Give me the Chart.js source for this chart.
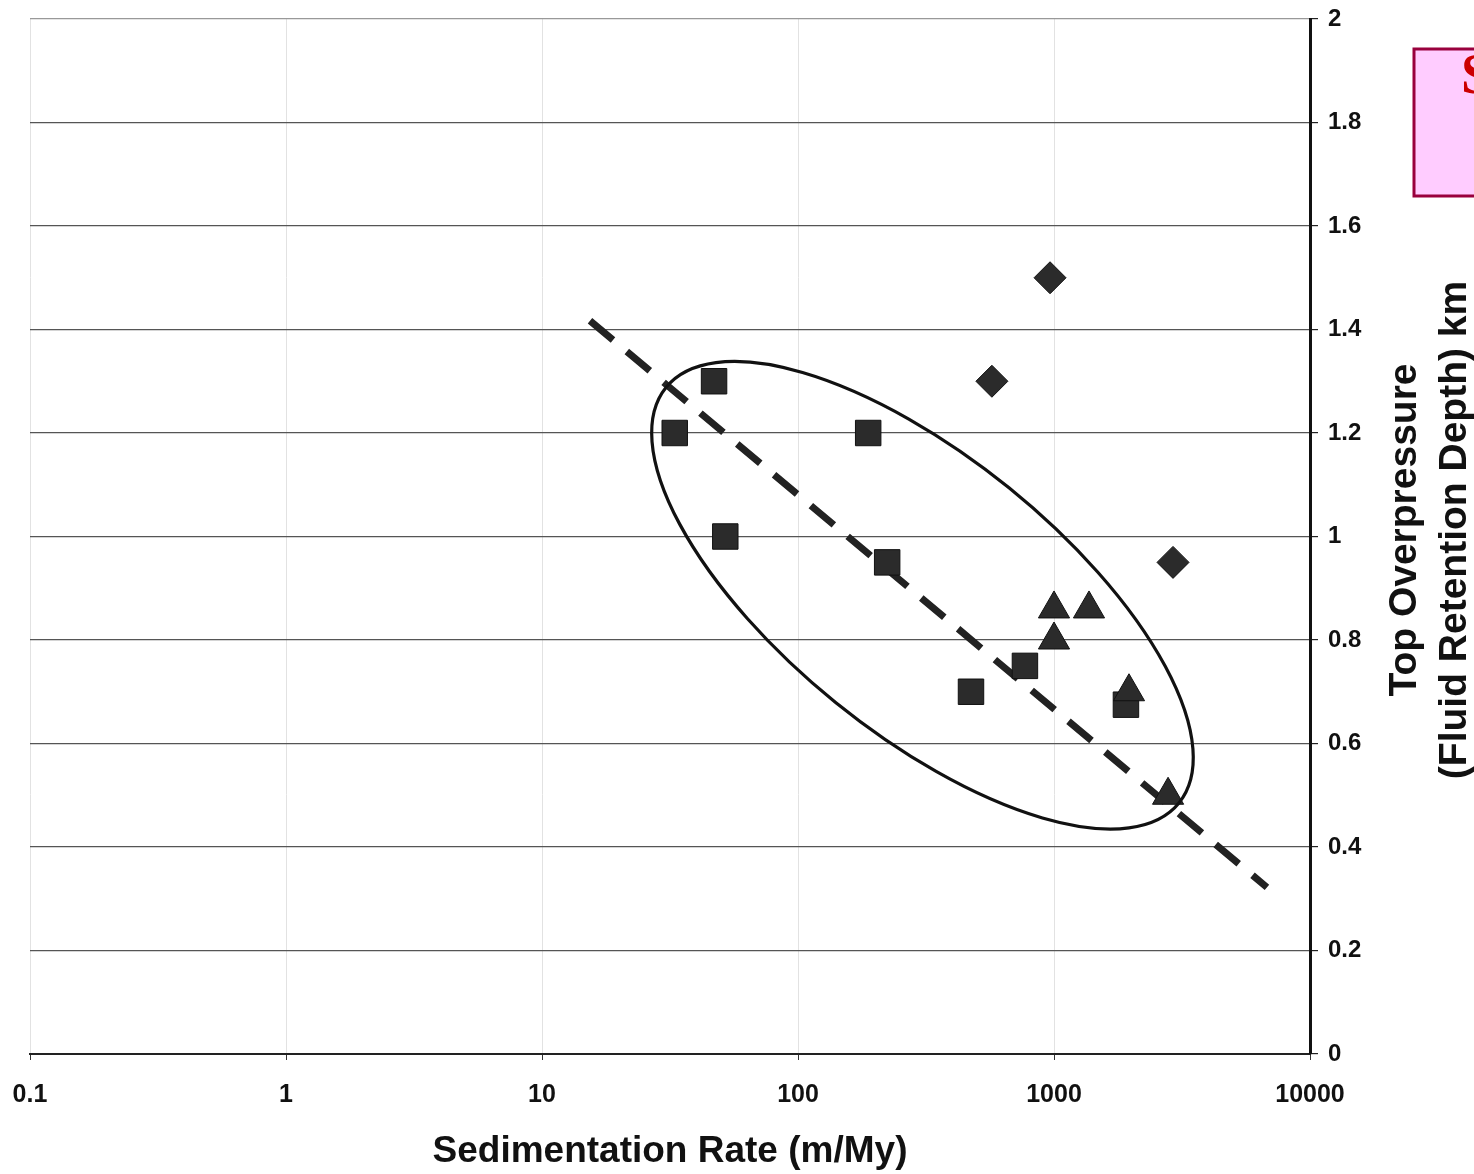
<!DOCTYPE html>
<html>
<head>
<meta charset="utf-8">
<script src="https://cdn.jsdelivr.net/npm/chart.js@4.4.1/dist/chart.umd.min.js"></script>
<style>
  body { margin: 0; background: #fff; }
</style>
</head>
<body>
<canvas id="sedPlot" width="1474" height="1174"></canvas>
<script>
// axis ticks
var xTicks = [0.1, 1, 10, 100, 1000, 10000];
var xTickLabels = ['0.1', '1', '10', '100', '1000', '10000'];
var yTickLabels = ['0', '0.2', '0.4', '0.6', '0.8', '1', '1.2', '1.4', '1.6', '1.8', '2'];

// points
var squareX = [33, 47, 52, 188, 223, 474, 770, 1910];
var squareY = [1.2, 1.3, 1.0, 1.2, 0.95, 0.7, 0.75, 0.675];
var diamondX = [572, 965, 2917];
var diamondY = [1.3, 1.5, 0.95];
var triangleX = [1000, 1000, 1370, 1963, 2790];
var triangleY = [0.86, 0.8, 0.86, 0.7, 0.5];

// dashed trend line
var trendX = [15.4, 6790];
var trendY = [1.417, 0.322];

// ellipse: ends of the long axis, and short/long ratio
var ellipseX = [30.5, 3077];
var ellipseY = [1.288, 0.485];
var ellipseRatio = 0.418;

var yTitle = ['Top Overpressure', '(Fluid Retention Depth) km'];
var xTitle = 'Sedimentation Rate (m/My)';
var boxText = 'S';

function toPoints(xs, ys) {
  var pts = [];
  for (var i = 0; i < xs.length; i++) {
    pts.push({x: xs[i], y: ys[i]});
  }
  return pts;
}

var markerFill = '#2b2b2b';
var markerEdge = '#111';

var ellipsePlugin = {
  id: 'ellipse',
  afterDatasetsDraw: function(chart) {
    var ctx = chart.ctx;
    var xs = chart.scales.x, ys = chart.scales.y;
    var x1 = xs.getPixelForValue(ellipseX[0]), y1 = ys.getPixelForValue(ellipseY[0]);
    var x2 = xs.getPixelForValue(ellipseX[1]), y2 = ys.getPixelForValue(ellipseY[1]);
    var cx = (x1 + x2) / 2, cy = (y1 + y2) / 2;
    var a = Math.sqrt((x2 - x1) * (x2 - x1) + (y2 - y1) * (y2 - y1)) / 2;
    var rot = Math.atan2(y2 - y1, x2 - x1);
    ctx.save();
    ctx.beginPath();
    ctx.ellipse(cx, cy, a, a * ellipseRatio, rot, 0, Math.PI * 2);
    ctx.lineWidth = 3.2;
    ctx.strokeStyle = '#111';
    ctx.stroke();
    ctx.restore();
  }
};

var extrasPlugin = {
  id: 'extras',
  afterDraw: function(chart) {
    var ctx = chart.ctx;
    ctx.save();
    // y title, reading bottom to top
    ctx.translate(1430, 530);
    ctx.rotate(-Math.PI / 2);
    ctx.fillStyle = '#111';
    ctx.font = 'bold 39px "Liberation Sans", Arial, sans-serif';
    ctx.textAlign = 'center';
    ctx.textBaseline = 'middle';
    ctx.fillText(yTitle[0], 0, -25);
    ctx.fillText(yTitle[1], 0, 25);
    ctx.restore();

    // pink box cut off at the right edge
    ctx.save();
    ctx.fillStyle = '#ffccff';
    ctx.strokeStyle = '#99003d';
    ctx.lineWidth = 3;
    ctx.fillRect(1414, 49, 80, 147);
    ctx.strokeRect(1414, 49, 80, 147);
    ctx.fillStyle = '#cc0000';
    ctx.font = 'bold 56px "Liberation Serif", "Times New Roman", serif';
    ctx.textAlign = 'left';
    ctx.textBaseline = 'alphabetic';
    ctx.fillText(boxText, 1461, 93);
    ctx.restore();
  }
};

var ctx = document.getElementById('sedPlot');
var chart = new Chart(ctx, {
  data: {
    datasets: [
      {
        type: 'line',
        data: toPoints(trendX, trendY),
        borderColor: '#222',
        borderWidth: 7,
        borderDash: [30, 18],
        pointRadius: 0,
        fill: false,
        order: 3
      },
      {
        type: 'scatter',
        data: toPoints(squareX, squareY),
        pointStyle: 'rect',
        pointRadius: 18,
        backgroundColor: markerFill,
        borderColor: markerEdge,
        borderWidth: 1,
        order: 2
      },
      {
        type: 'scatter',
        data: toPoints(diamondX, diamondY),
        pointStyle: 'rectRot',
        pointRadius: 16,
        backgroundColor: markerFill,
        borderColor: markerEdge,
        borderWidth: 1,
        order: 1
      },
      {
        type: 'scatter',
        data: toPoints(triangleX, triangleY),
        pointStyle: 'triangle',
        pointRadius: 18,
        backgroundColor: markerFill,
        borderColor: markerEdge,
        borderWidth: 1,
        order: 0
      }
    ]
  },
  options: {
    responsive: false,
    animation: false,
    layout: { padding: { left: 30, top: 18, right: 0, bottom: 0 } },
    plugins: { legend: { display: false }, tooltip: { enabled: false } },
    scales: {
      x: {
        type: 'logarithmic',
        min: 0.1,
        max: 10000,
        afterBuildTicks: function(axis) {
          axis.ticks = xTicks.map(function(v) { return {value: v}; });
        },
        afterFit: function(axis) {
          axis.height = 120;
          axis.paddingLeft = 0;
          axis.paddingRight = 0;
        },
        ticks: {
          autoSkip: false,
          maxRotation: 0,
          padding: 20,
          color: '#111',
          font: { family: '"Liberation Sans", Arial, sans-serif', size: 25, weight: 'bold' },
          callback: function(value, index) { return xTickLabels[index]; }
        },
        grid: {
          color: '#e2e2e2',
          lineWidth: 1,
          tickColor: '#333',
          tickLength: 6,
          drawTicks: true
        },
        border: { display: true, color: '#222', width: 2 },
        title: {
          display: true,
          text: xTitle,
          color: '#111',
          font: { family: '"Liberation Sans", Arial, sans-serif', size: 37, weight: 'bold' },
          padding: { top: 0, bottom: 0 }
        }
      },
      y: {
        type: 'linear',
        position: 'right',
        min: 0,
        max: 2,
        afterFit: function(axis) {
          axis.width = 164;
          axis.paddingTop = 0;
          axis.paddingBottom = 0;
        },
        ticks: {
          stepSize: 0.2,
          padding: 10,
          color: '#111',
          font: { family: '"Liberation Sans", Arial, sans-serif', size: 24, weight: 'bold' },
          callback: function(value, index) { return yTickLabels[index]; }
        },
        grid: {
          color: function(c) { return c.index === 10 ? '#999' : '#555'; },
          lineWidth: 1.2,
          tickColor: '#222',
          tickLength: 8
        },
        border: { display: true, color: '#111', width: 3 }
      }
    }
  },
  plugins: [ellipsePlugin, extrasPlugin]
});
</script>
</body>
</html>
